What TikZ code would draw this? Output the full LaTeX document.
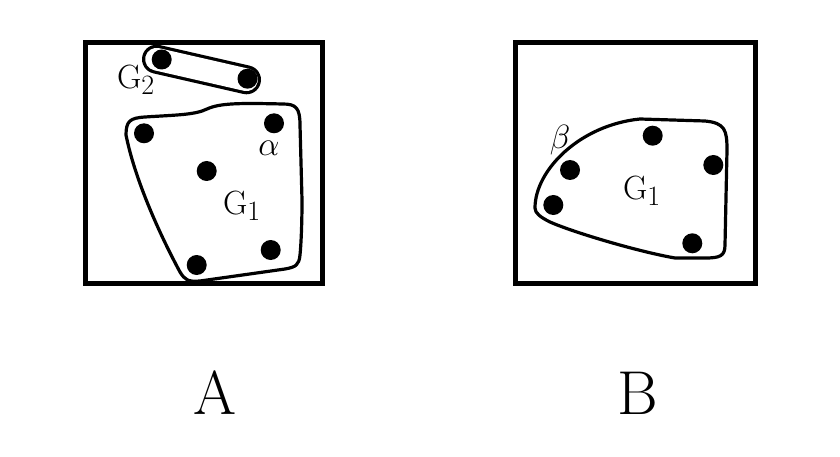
\documentclass[tikz,border=0pt]{standalone}
\usetikzlibrary{calc}
\begin{document}
\begin{tikzpicture}[x=1pt,y=-1pt,
  frame/.style={line width=5pt},
  blob/.style={line width=3.2pt, line join=round},
  dot/.style={circle, fill=black, inner sep=0pt, minimum size=20pt},
  lbl/.style={inner sep=0pt, scale=1.35, transform shape, font=\fontsize{24.88}{30}\selectfont},
  big/.style={inner sep=0pt, font=\fontsize{62}{70}\selectfont}]
\useasboundingbox[fill=white] (0,0) rectangle (840,457);
% frames
\draw[frame] (85,43) rectangle (322,283);
\draw[frame] (515,43) rectangle (755,283);
% ---- A ----
% G2 capsule
\coordinate (c1) at (156.5,59.2);
\coordinate (c2) at (246.5,79.8);
\draw[line width=29pt, line cap=round] (c1) -- (c2);
\draw[white, line width=22.6pt, line cap=round] (c1) -- (c2);
% G1 blob
\draw[blob] (126,135) .. controls (126,121) and (130,118) .. (145,117)
  .. controls (175,115) and (195,115) .. (207,109)
  .. controls (220,103) and (240,103) .. (283,104)
  .. controls (296,104) and (300,108) .. (300,125)
  -- (302,200)
  .. controls (302,225) and (301,245) .. (300,255)
  .. controls (299,265) and (296,267) .. (285,269)
  -- (200,281)
  .. controls (188,282) and (185,280) .. (180,272)
  .. controls (160,235) and (135,180) .. (126,135) -- cycle;
\node[dot] (a1) at (161.7,59.5) {};
\node[dot] (a2) at (247.5,78.7) {};
\node[dot] (a3) at (144,133.3) {};
\node[dot] (a4) at (274,123.3) {};
\node[dot] (a5) at (206.7,171) {};
\node[dot] (a6) at (270.7,250) {};
\node[dot] (a7) at (196.7,265) {};
\node[lbl] (g2) at (136,80) {G$_2$};
\node[lbl] (al) at (269,148) {$\alpha$};
\node[lbl] (g1a) at (242,206) {G$_1$};
% ---- B ----
\draw[blob] (535,208) .. controls (535,170) and (580,125) .. (640,119) -- (705,121)
  .. controls (725,123) and (727,130) .. (727,150) -- (725,245)
  .. controls (725,256) and (720,258) .. (705,258) -- (675,258)
  .. controls (640,252) and (575,233) .. (550,222)
  .. controls (540,217) and (535,213) .. (535,208) -- cycle;
\node[dot] (b1) at (652.7,135.7) {};
\node[dot] (b2) at (713.3,165) {};
\node[dot] (b3) at (570,170) {};
\node[dot] (b4) at (553.3,205) {};
\node[dot] (b5) at (692.3,243.3) {};
\node[lbl] (be) at (560,140) {$\beta$};
\node[lbl] (g1b) at (642,191) {G$_1$};
% captions
\node[big] (A) at (215,393) {A};
\node[big] (B) at (638,393) {B};
\end{tikzpicture}
\end{document}
